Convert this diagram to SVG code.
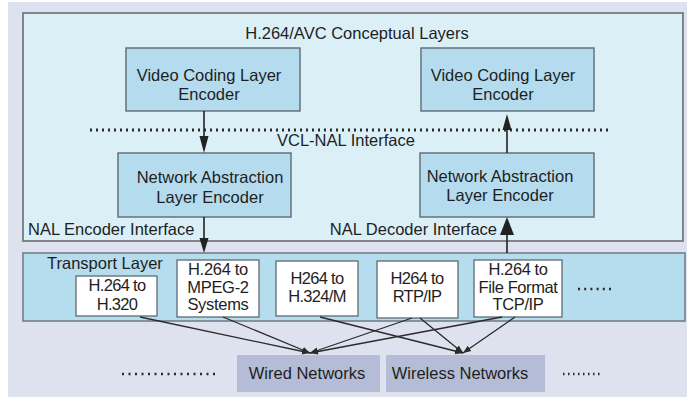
<svg xmlns="http://www.w3.org/2000/svg" width="687" height="401" viewBox="0 0 687 401">
  <style>
    text { font-family: "Liberation Sans", Arial, sans-serif; font-size: 16.5px; fill: #1e1e1e; }
    .c { text-anchor: middle; }
    .layer { fill: #b4dcee; stroke: #5e6a72; stroke-width: 1.4; }
    .port { fill: #ffffff; stroke: #5e6a72; stroke-width: 1.3; }
    .net { fill: #b4bdd5; stroke: none; }
    .flow { stroke: #222; stroke-width: 1.6; fill: none; }
    .link { stroke: #2a2a2a; stroke-width: 1.3; fill: none; marker-end: url(#tip); }
    .dots { stroke: #2a2a2a; stroke-width: 3; stroke-dasharray: 2 4; fill: none; }
  </style>
  <defs>
    <marker id="tip" viewBox="0 0 10 10" refX="10" refY="5" markerWidth="8" markerHeight="8" markerUnits="userSpaceOnUse" orient="auto">
      <path d="M0,1 L10,5 L0,9 z" fill="#2a2a2a"/>
    </marker>
  </defs>

  <!-- page background -->
  <rect x="0" y="0" width="687" height="401" fill="#ffffff"/>
  <rect x="8" y="2" width="679" height="395" fill="#dde2ee"/>

  <!-- conceptual layers frame -->
  <g id="conceptual-layers">
    <rect x="23" y="13" width="660" height="228" fill="#dbeff7" stroke="#7e868c" stroke-width="2"/>
    <text class="c" x="357" y="39">H.264/AVC Conceptual Layers</text>
  </g>

  <g id="vcl-encoder">
    <rect class="layer" x="126" y="48" width="174" height="63"/>
    <text class="c" x="209" y="81">Video Coding Layer</text>
    <text class="c" x="209" y="100">Encoder</text>
  </g>

  <g id="vcl-decoder">
    <rect class="layer" x="421" y="48" width="173" height="63"/>
    <text class="c" x="503" y="81">Video Coding Layer</text>
    <text class="c" x="503" y="100">Encoder</text>
  </g>

  <g id="vcl-nal-interface">
    <line class="dots" x1="90" y1="130" x2="608" y2="130"/>
    <text x="277" y="146">VCL-NAL Interface</text>
  </g>

  <g id="nal-encoder">
    <rect class="layer" x="118" y="153" width="173" height="64"/>
    <text class="c" x="210" y="183">Network Abstraction</text>
    <text class="c" x="210" y="203">Layer Encoder</text>
  </g>

  <g id="nal-decoder">
    <rect class="layer" x="420" y="153" width="174" height="64"/>
    <text class="c" x="500" y="182">Network Abstraction</text>
    <text class="c" x="500" y="201">Layer Encoder</text>
  </g>

  <g id="interface-labels">
    <text x="28" y="235">NAL Encoder Interface</text>
    <text x="497" y="235" text-anchor="end">NAL Decoder Interface</text>
  </g>

  <!-- transport layer -->
  <g id="transport-layer">
    <rect x="23" y="253" width="662" height="68" fill="#b5dded" stroke="#6f7a80" stroke-width="1.5"/>
    <text x="47" y="269">Transport Layer</text>
    <line class="dots" x1="578" y1="289" x2="614" y2="289" style="stroke-width:2.5; stroke-dasharray:2 4.2"/>
  </g>

  <g id="h320">
    <rect class="port" x="76" y="276" width="81" height="40"/>
    <text class="c" x="117" y="291" letter-spacing="-0.7">H.264 to</text>
    <text class="c" x="117" y="310" letter-spacing="-0.7">H.320</text>
  </g>

  <g id="mpeg2">
    <rect class="port" x="177" y="260" width="82" height="57"/>
    <text class="c" x="218" y="275" letter-spacing="-0.3">H.264 to</text>
    <text class="c" x="218" y="293" letter-spacing="-0.3">MPEG-2</text>
    <text class="c" x="218" y="310" letter-spacing="-0.3">Systems</text>
  </g>

  <g id="h324m">
    <rect class="port" x="276" y="261" width="82" height="55"/>
    <text class="c" x="317" y="284" letter-spacing="-0.7">H264 to</text>
    <text class="c" x="317" y="302" letter-spacing="-0.7">H.324/M</text>
  </g>

  <g id="rtp-ip">
    <rect class="port" x="377" y="261" width="81" height="57"/>
    <text class="c" x="417" y="284" letter-spacing="-0.7">H264 to</text>
    <text class="c" x="417" y="302" letter-spacing="-0.7">RTP/IP</text>
  </g>

  <g id="file-format">
    <rect class="port" x="474" y="260" width="88" height="57"/>
    <text class="c" x="518" y="275" letter-spacing="-0.4">H.264 to</text>
    <text class="c" x="518" y="293" letter-spacing="-0.4">File Format</text>
    <text class="c" x="518" y="310" letter-spacing="-0.4">TCP/IP</text>
  </g>

  <!-- networks -->
  <g id="wired-networks">
    <rect class="net" x="237" y="355" width="143" height="37"/>
    <text class="c" x="307" y="379">Wired Networks</text>
  </g>

  <g id="wireless-networks">
    <rect class="net" x="386" y="355" width="159" height="37"/>
    <text class="c" x="460" y="379">Wireless Networks</text>
  </g>

  <g id="more-networks">
    <line class="dots" x1="122" y1="374" x2="218" y2="374" style="stroke-width:2.5; stroke-dasharray:2 4.5"/>
    <line class="dots" x1="563" y1="374" x2="602" y2="374" style="stroke-width:2.5; stroke-dasharray:1.5 3.5"/>
  </g>

  <!-- connectors -->
  <g id="connectors">
    <!-- encoder path, downward -->
    <line class="flow" x1="204" y1="111" x2="204" y2="140"/>
    <polygon points="199.5,136 208.5,136 204,153" fill="#222"/>
    <line class="flow" x1="204" y1="217" x2="204" y2="242"/>
    <polygon points="199.5,238 208.5,238 204,253" fill="#222"/>
    <!-- decoder path, upward -->
    <line class="flow" x1="507" y1="153" x2="507" y2="126"/>
    <polygon points="502.5,130 511.5,130 507,114" fill="#222"/>
    <line class="flow" x1="507" y1="253" x2="507" y2="230"/>
    <polygon points="500,235 514,235 507,217" fill="#222"/>
    <!-- transport mappings to networks -->
    <line class="link" x1="140" y1="317" x2="310" y2="353"/>
    <line class="link" x1="223" y1="317" x2="310" y2="353"/>
    <line class="link" x1="320" y1="317" x2="463" y2="353"/>
    <line class="link" x1="412" y1="318" x2="310" y2="353"/>
    <line class="link" x1="420" y1="318" x2="463" y2="353"/>
    <line class="link" x1="502" y1="317" x2="310" y2="353"/>
    <line class="link" x1="515" y1="317" x2="463" y2="353"/>
  </g>
</svg>
